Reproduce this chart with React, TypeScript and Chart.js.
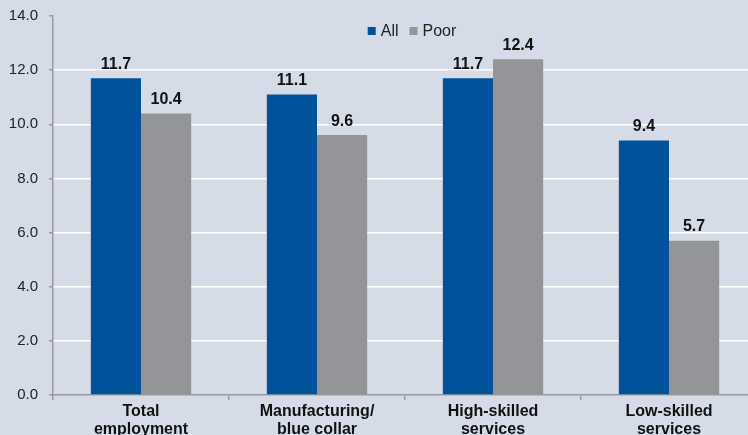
import React, { useEffect, useRef } from "react";
import { Chart, registerables } from "chart.js";

Chart.register(...registerables);

const categories: string[][] = [
  ["Total", "employment"],
  ["Manufacturing/", "blue collar"],
  ["High-skilled", "services"],
  ["Low-skilled", "services"],
];
const allValues = [11.7, 11.1, 11.7, 9.4];
const poorValues = [10.4, 9.6, 12.4, 5.7];
const seriesNames = ["All", "Poor"];
const yTicks = { min: 0, max: 14, step: 2 };

const BLUE = "#00529B";
const GRAY = "#939598";
const BG = "#D6DBE8";
const AXIS = "#9A9A9A";

const valueLabels = {
  id: "valueLabels",
  afterDatasetsDraw(chart: any) {
    const ctx = chart.ctx;
    ctx.save();
    ctx.font = "bold 16px 'Liberation Sans', Arial, sans-serif";
    ctx.fillStyle = "#111";
    ctx.textAlign = "center";
    ctx.textBaseline = "bottom";
    chart.data.datasets.forEach((ds: any, i: number) => {
      const meta = chart.getDatasetMeta(i);
      meta.data.forEach((bar: any, j: number) => {
        ctx.fillText(Number(ds.data[j]).toFixed(1), bar.x, bar.y - 6);
      });
    });
    ctx.restore();
  },
};

const topLegend = {
  id: "topLegend",
  afterDraw(chart: any) {
    const ctx = chart.ctx;
    const area = chart.chartArea;
    ctx.save();
    ctx.font = "16px 'Liberation Sans', Arial, sans-serif";
    ctx.textBaseline = "middle";
    ctx.textAlign = "left";
    const box = 8;
    const gap = 5;
    const between = 11;
    const items = chart.data.datasets.map((ds: any) => ({
      label: ds.label,
      color: ds.backgroundColor,
      w: box + gap + ctx.measureText(ds.label).width,
    }));
    const total = items.reduce((s: number, it: any) => s + it.w, 0) + between * (items.length - 1);
    let x = (area.left + area.right) / 2 - total / 2 + 7;
    const y = area.top + 15;
    items.forEach((it: any) => {
      ctx.fillStyle = it.color;
      ctx.fillRect(x, y - box / 2, box, box);
      ctx.fillStyle = "#222";
      ctx.fillText(it.label, x + box + gap, y + 1);
      x += it.w + between;
    });
    ctx.restore();
  },
};

export default function App() {
  const ref = useRef<HTMLCanvasElement>(null);
  useEffect(() => {
    document.body.style.margin = "0";
    document.body.style.overflow = "hidden";
    const chart = new Chart(ref.current!, {
      type: "bar",
      data: {
        labels: categories,
        datasets: [
          { label: seriesNames[0], data: allValues, backgroundColor: BLUE, categoryPercentage: 0.57, barPercentage: 1 },
          { label: seriesNames[1], data: poorValues, backgroundColor: GRAY, categoryPercentage: 0.57, barPercentage: 1 },
        ],
      },
      options: {
        animation: false,
        responsive: false,
        devicePixelRatio: 1,
        layout: { padding: { top: 16, left: 0, right: 0, bottom: 0 } },
        plugins: { legend: { display: false }, tooltip: { enabled: false } },
        scales: {
          x: {
            offset: true,
            grid: {
              offset: true,
              drawOnChartArea: false,
              color: AXIS,
              tickColor: AXIS,
              tickLength: 5,
              lineWidth: 1.5,
            },
            border: { color: AXIS, width: 1.5 },
            ticks: {
              color: "#111",
              padding: 2,
              font: { family: "'Liberation Sans', Arial, sans-serif", size: 16, weight: "bold", lineHeight: 1.15 },
              maxRotation: 0,
              autoSkip: false,
            },
            afterFit(scale: any) {
              scale.height = 40;
            },
          },
          y: {
            min: yTicks.min,
            max: yTicks.max,
            ticks: {
              stepSize: yTicks.step,
              color: "#222",
              padding: 11,
              font: { family: "'Liberation Sans', Arial, sans-serif", size: 15 },
              callback: (v: any) => Number(v).toFixed(1),
            },
            grid: {
              color: (c: any) => (c.tick && (c.tick.value === 0 || c.tick.value === 14) ? "rgba(0,0,0,0)" : "#FFFFFF"),
              tickColor: AXIS,
              tickLength: 4,
              lineWidth: 1.5,
            },
            border: { color: AXIS, width: 1.5 },
            afterFit(scale: any) {
              scale.width = 53;
              scale.paddingTop = 0;
              scale.paddingBottom = 0;
            },
          },
        },
      },
      plugins: [valueLabels, topLegend],
    });
    return () => chart.destroy();
  }, []);
  return (
    <div style={{ position: "fixed", left: 0, top: 0, width: 748, height: 435, overflow: "hidden", background: BG }}>
      <canvas ref={ref} width={757} height={435} style={{ width: 757, height: 435, display: "block" }} />
    </div>
  );
}
